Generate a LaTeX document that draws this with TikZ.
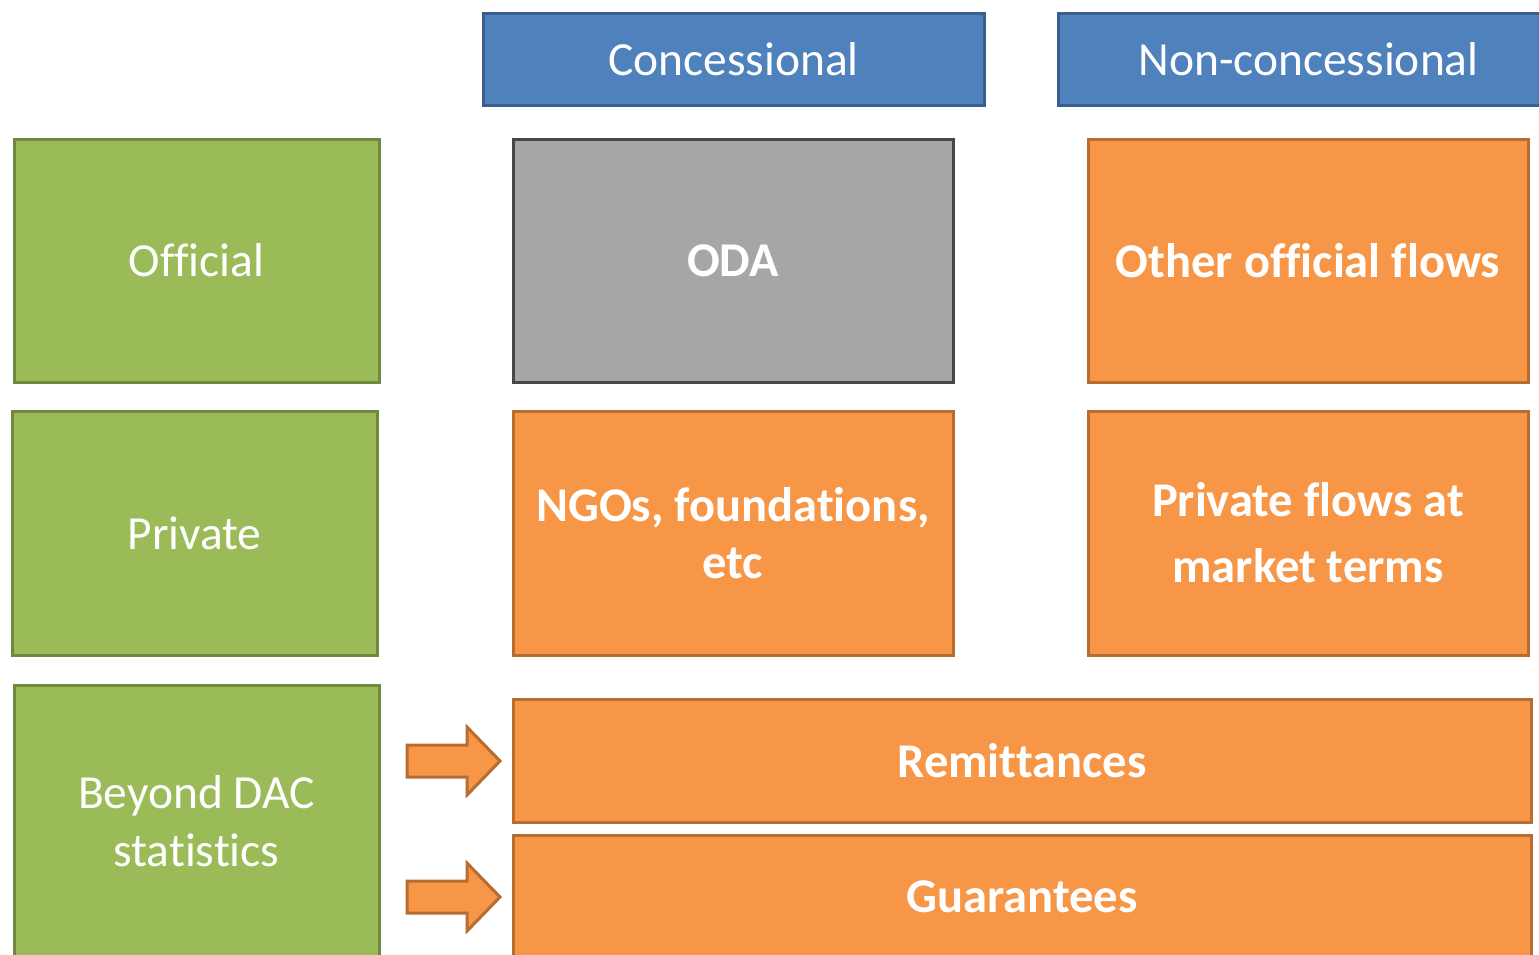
\documentclass[tikz,border=0pt]{standalone}
\usepackage{fontspec}
\setmainfont[Ligatures=NoCommon]{Carlito}
\definecolor{hdrfill}{HTML}{4F81BD}
\definecolor{hdrline}{HTML}{3A5F8E}
\definecolor{grnfill}{HTML}{9BBB59}
\definecolor{grnline}{HTML}{71893F}
\definecolor{gryfill}{HTML}{A6A6A6}
\definecolor{gryline}{HTML}{474747}
\definecolor{orgfill}{HTML}{F79646}
\definecolor{orgline}{HTML}{B66D31}
\tikzset{
  regfont/.style={font=\fontsize{47.5}{58}\selectfont},
  boldfont/.style={font=\fontsize{48.5}{57}\selectfont\bfseries},
  box/.style={draw, line width=3pt, inner sep=0pt, align=center, text=white, regfont},
  hdr/.style={box, fill=hdrfill, draw=hdrline},
  grn/.style={box, fill=grnfill, draw=grnline},
  gry/.style={box, fill=gryfill, draw=gryline, boldfont},
  org/.style={box, fill=orgfill, draw=orgline, boldfont},
  label/.style={text=white, align=center},
  fatarrow/.style={fill=orgfill, draw=orgline, line width=3pt, line join=miter},
}
\begin{document}
\begin{tikzpicture}[x=1pt, y=-1pt]
\useasboundingbox (0,0) rectangle (1539,954);
\clip (0,0) rectangle (1539,954);

% column headers
\node[hdr, minimum width=501pt, minimum height=92pt] (conc) at (733.5,59) {Concessional};
\node[hdr, minimum width=501pt, minimum height=92pt] (nonc) at (1308.5,59) {Non-concessional};

% row labels
\node[grn, minimum width=365pt, minimum height=243pt] (off) at (196.5,260.5) {Official};
\node[grn, minimum width=365pt, minimum height=244pt] (priv) at (194.5,533) {Private};
\node[grn, minimum width=365pt, minimum height=300pt] (beyond) at (196.5,835) {};
\node[label, regfont] (beyondtxt) at (196.5,821) {Beyond DAC\\statistics};

% cells
\node[gry, minimum width=440pt, minimum height=243pt] (oda) at (733,260.5) {ODA};
\node[org, minimum width=440pt, minimum height=243pt] (oof) at (1308,260.5) {Other official flows};
\node[org, minimum width=440pt, minimum height=244pt] (ngo) at (733,533) {};
\node[label, boldfont] (ngotxt) at (733,533) {NGOs, foundations,\\etc};
\node[org, minimum width=440pt, minimum height=244pt] (pfm) at (1308,533) {};
\node[label, font=\fontsize{48.5}{66}\selectfont\bfseries] (pfmtxt) at (1308,533) {Private flows at\\market terms};
\node[org, minimum width=1018pt, minimum height=123pt] (rem) at (1022,760.5) {Remittances};
\node[org, minimum width=1018pt, minimum height=150pt] (gua) at (1022,910) {};
\node[label, boldfont] (guatxt) at (1022,897) {Guarantees};

% block arrows pointing at the bottom rows
\foreach \yc/\nm in {761/arrA, 897/arrB}{
  \coordinate (\nm) at (453,\yc);
  \draw[fatarrow] ([shift={(-46,-16)}]\nm) -- ([shift={(14,-16)}]\nm)
    -- ([shift={(14,-34)}]\nm) -- ([shift={(47,0)}]\nm)
    -- ([shift={(14,34)}]\nm) -- ([shift={(14,16)}]\nm)
    -- ([shift={(-46,16)}]\nm) -- cycle;
}
\end{tikzpicture}
\end{document}
